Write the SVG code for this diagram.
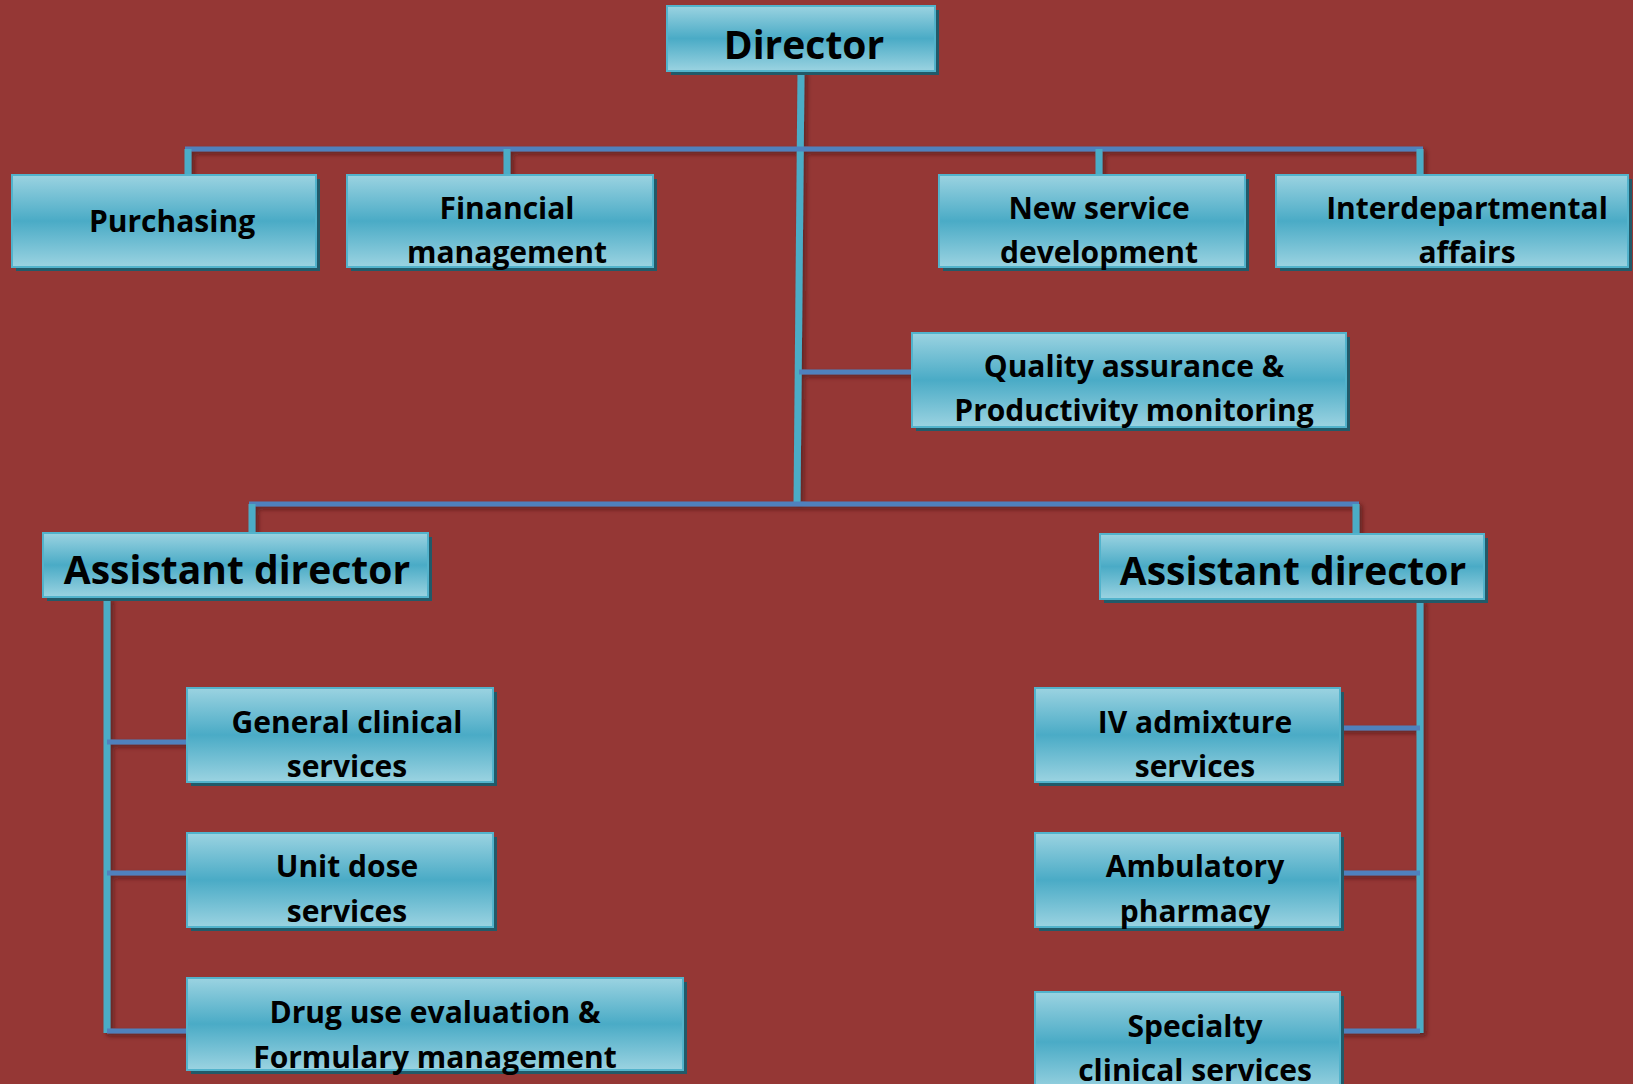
<svg xmlns="http://www.w3.org/2000/svg" width="1633" height="1084" viewBox="0 0 1633 1084">
<defs>
<linearGradient id="g" x1="0" y1="0" x2="0" y2="1">
<stop offset="0" stop-color="#9bd3e1"/>
<stop offset="0.5" stop-color="#4aabc6"/>
<stop offset="1" stop-color="#9bd3e1"/>
</linearGradient>
<filter id="ls" x="-20%" y="-20%" width="140%" height="140%">
<feDropShadow dx="3" dy="3" stdDeviation="2" flood-color="#3a1010" flood-opacity="0.55"/>
</filter>
</defs>
<style>
.sh{fill:#215a69}
.bx{fill:url(#g);stroke:#52b3cc;stroke-width:2}
.t{font-family:"Open Sans",Lato,"Liberation Sans",sans-serif;font-weight:bold;font-size:30px;fill:#000;text-anchor:middle}
.tb{font-size:39px}
.v{stroke:#4bacc6;stroke-width:7;fill:none}
.h{stroke:#4f81bd;stroke-width:5;fill:none}
</style>
<rect width="1633" height="1084" fill="#953735"/>
<g id="connectors" filter="url(#ls)">
<line class="v" x1="801" y1="71" x2="797" y2="504"/>
<line class="h" x1="185" y1="149" x2="1423" y2="149"/>
<line class="v" x1="188" y1="149" x2="188" y2="175"/>
<line class="v" x1="507" y1="149" x2="507" y2="175"/>
<line class="v" x1="1099" y1="149" x2="1099" y2="175"/>
<line class="v" x1="1420" y1="149" x2="1420" y2="175"/>
<line class="h" x1="799" y1="372" x2="922" y2="372"/>
<line class="h" x1="249" y1="504" x2="1359" y2="504"/>
<line class="v" x1="252" y1="504" x2="252" y2="533"/>
<line class="v" x1="1356" y1="504" x2="1356" y2="534"/>
<line class="v" x1="107" y1="597" x2="107" y2="1033"/>
<line class="h" x1="107" y1="742" x2="190" y2="742"/>
<line class="h" x1="107" y1="873" x2="190" y2="873"/>
<line class="h" x1="107" y1="1031" x2="190" y2="1031"/>
<line class="v" x1="1420" y1="599" x2="1420" y2="1033"/>
<line class="h" x1="1338" y1="728" x2="1420" y2="728"/>
<line class="h" x1="1338" y1="873" x2="1420" y2="873"/>
<line class="h" x1="1338" y1="1031" x2="1420" y2="1031"/>
</g>
<g id="director">
<rect class="sh" x="671" y="10" width="268" height="65"/>
<rect class="bx" x="667" y="6" width="268" height="65"/>
<text class="t tb" x="804" y="59">Director</text>
</g>
<g id="purchasing">
<rect class="sh" x="16" y="179" width="304" height="92"/>
<rect class="bx" x="12" y="175" width="304" height="92"/>
<text class="t" x="172" y="232">Purchasing</text>
</g>
<g id="financial">
<rect class="sh" x="351" y="179" width="306" height="92"/>
<rect class="bx" x="347" y="175" width="306" height="92"/>
<text class="t" x="507" y="219">Financial</text>
<text class="t" x="507" y="263">management</text>
</g>
<g id="newservice">
<rect class="sh" x="943" y="179" width="306" height="92"/>
<rect class="bx" x="939" y="175" width="306" height="92"/>
<text class="t" x="1099" y="219">New service</text>
<text class="t" x="1099" y="263">development</text>
</g>
<g id="interdepartmental">
<rect class="sh" x="1280" y="179" width="352" height="92"/>
<rect class="bx" x="1276" y="175" width="352" height="92"/>
<text class="t" x="1467" y="219">Interdepartmental</text>
<text class="t" x="1467" y="263">affairs</text>
</g>
<g id="quality">
<rect class="sh" x="916" y="337" width="434" height="94"/>
<rect class="bx" x="912" y="333" width="434" height="94"/>
<text class="t" x="1134" y="377">Quality assurance &amp;</text>
<text class="t" x="1134" y="421">Productivity monitoring</text>
</g>
<g id="assistant-left">
<rect class="sh" x="47" y="537" width="385" height="64"/>
<rect class="bx" x="43" y="533" width="385" height="64"/>
<text class="t tb" x="237" y="584">Assistant director</text>
</g>
<g id="assistant-right">
<rect class="sh" x="1104" y="538" width="384" height="65"/>
<rect class="bx" x="1100" y="534" width="384" height="65"/>
<text class="t tb" x="1293" y="585">Assistant director</text>
</g>
<g id="general">
<rect class="sh" x="191" y="692" width="306" height="94"/>
<rect class="bx" x="187" y="688" width="306" height="94"/>
<text class="t" x="347" y="733">General clinical</text>
<text class="t" x="347" y="777">services</text>
</g>
<g id="unitdose">
<rect class="sh" x="191" y="837" width="306" height="94"/>
<rect class="bx" x="187" y="833" width="306" height="94"/>
<text class="t" x="347" y="877">Unit dose</text>
<text class="t" x="347" y="922">services</text>
</g>
<g id="druguse">
<rect class="sh" x="191" y="982" width="496" height="92"/>
<rect class="bx" x="187" y="978" width="496" height="92"/>
<text class="t" x="435" y="1023">Drug use evaluation &amp;</text>
<text class="t" x="435" y="1068">Formulary management</text>
</g>
<g id="iv">
<rect class="sh" x="1039" y="692" width="305" height="94"/>
<rect class="bx" x="1035" y="688" width="305" height="94"/>
<text class="t" x="1195" y="733">IV admixture</text>
<text class="t" x="1195" y="777">services</text>
</g>
<g id="ambulatory">
<rect class="sh" x="1039" y="837" width="305" height="94"/>
<rect class="bx" x="1035" y="833" width="305" height="94"/>
<text class="t" x="1195" y="877">Ambulatory</text>
<text class="t" x="1195" y="922">pharmacy</text>
</g>
<g id="specialty">
<rect class="sh" x="1039" y="996" width="305" height="100"/>
<rect class="bx" x="1035" y="992" width="305" height="100"/>
<text class="t" x="1195" y="1037">Specialty</text>
<text class="t" x="1195" y="1081">clinical services</text>
</g>
</svg>
